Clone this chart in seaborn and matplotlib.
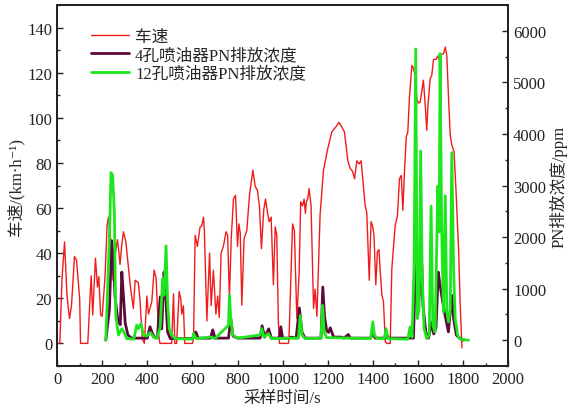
import numpy as np
import pandas as pd
import seaborn as sns
import matplotlib.pyplot as plt
from matplotlib.ticker import MultipleLocator

# 车速 (km/h) vs sampling time (s)
speed_t = [0, 12, 22, 33, 44, 55, 64, 77, 86, 100, 104, 136, 151, 158, 170, 179, 185, 193, 200, 212,
           222, 228, 237, 248, 258, 268, 279, 287, 294, 305, 324, 338, 346, 360, 367, 378, 387, 398,
           405, 420, 430, 439, 450, 456, 508, 516, 522, 530, 541, 548, 553, 560, 566, 600, 605, 612,
           622, 634, 641, 649, 653, 664, 676, 683, 693, 704, 712, 719, 727, 738, 749, 756, 764, 772,
           782, 791, 800, 806, 812, 819, 829, 841, 853, 868, 878, 888, 897, 906, 916, 924, 933, 940,
           949, 959, 967, 974, 981, 986, 1026, 1029, 1044, 1052, 1063, 1073, 1080, 1088, 1095, 1101,
           1105, 1111, 1117, 1126, 1137, 1144, 1152, 1166, 1181, 1200, 1218, 1236, 1250, 1259, 1274,
           1289, 1299, 1310, 1319, 1329, 1339, 1348, 1358, 1366, 1373, 1384, 1392, 1399, 1405, 1413,
           1420, 1427, 1432, 1440, 1447, 1455, 1462, 1477, 1484, 1499, 1509, 1518, 1526, 1533, 1540,
           1548, 1555, 1562, 1573, 1580, 1588, 1595, 1602, 1610, 1617, 1624, 1632, 1639, 1644, 1654,
           1661, 1669, 1681, 1688, 1696, 1703, 1713, 1721, 1728, 1735, 1743, 1750, 1760, 1769, 1780,
           1787, 1795]
speed_v = [0, 0, 29, 45, 21, 11, 17, 38.5, 37, 20, 0, 0, 30, 12.6, 37.8, 25, 29.6, 12.6, 12, 29,
           52.6, 56, 46.7, 28, 40, 46, 35, 44, 49.5, 45, 26, 15.5, 28, 27, 20, 2, 0, 21,
           13, 18.6, 32.5, 29, 4, 0, 0, 22, 0, 0, 23, 20, 13, 16.7, 0, 0, 2, 48,
           43, 51.7, 52, 56, 50, 10, 40, 16.7, 32.5, 13, 21, 11.5, 40, 43.4, 49.5, 48, 20, 46.5,
           64, 65.7, 43, 53, 49, 17, 46.5, 50, 65.7, 76.8, 69.7, 68, 61, 42, 59, 64, 58, 54,
           56, 26, 51.7, 48, 9.6, 0, 0, 5, 53, 50, 11, 31, 62.8, 61, 64, 57.6,
           62.8, 64, 68.7, 61, 15.5, 24, 12, 57, 76.8, 86.4, 93.8, 96, 98, 96.5, 93.8,
           81, 77.7, 76.3, 73, 81, 79.6, 81, 70, 61, 58, 28, 54, 52, 48, 26,
           40.6, 41.6, 33, 21.4, 18.6, 0.7, 0, 0, 33, 52.4, 56.6, 73, 74.5, 59, 75.8,
           91.6, 93.7, 109, 123.3, 122, 118.5, 108.5, 106.6, 107, 112, 116.7, 106, 94.5, 105, 117.4,
           118.8, 126, 126, 127.5, 125.5, 128, 128.5, 131.4, 127.5, 110, 92.3, 88, 85, 67, 41.6,
           18, -2]

# 4孔喷油器 PN (ppm)
pn4_t = [216, 232, 242, 250, 257, 269, 280, 287, 295, 302, 314, 330, 400, 412, 420, 430, 445, 457,
         464, 474, 480, 490, 502, 600, 615, 625, 680, 690, 700, 760, 770, 780, 800, 900, 909, 920,
         938, 950, 985, 992, 1000, 1030, 1037, 1060, 1074, 1086, 1100, 1170, 1178, 1186, 1195, 1203,
         1211, 1226, 1262, 1272, 1291, 1300, 1390, 1400, 1410, 1455, 1462, 1470, 1580, 1585, 1592,
         1602, 1610, 1617, 1622, 1635, 1647, 1661, 1670, 1680, 1690, 1698, 1705, 1717, 1724, 1735,
         1750, 1758, 1770, 1785, 1802]
pn4_v = [0, 600, 1930, 1550, 840, 400, 300, 1320, 800, 330, 100, 40, 40, 260, 160, 60, 60, 840,
         220, 1320, 1000, 160, 30, 30, 160, 40, 40, 200, 40, 40, 420, 80, 40, 40, 280, 60,
         220, 40, 40, 260, 40, 40, 60, 40, 625, 150, 40, 40, 1030, 450, 190, 150,
         240, 60, 60, 40, 110, 40, 40, 150, 40, 40, 100, 40, 40, 800, 2050,
         740, 1000, 1450, 680, 150, 40, 350, 120, 250, 1320, 1060, 870, 550, 400, 160,
         870, 420, 100, 40, 0]

# 12孔喷油器 PN (ppm)
pn12_t = [216, 232, 239, 246, 254, 260, 272, 287, 295, 309, 340, 353, 360, 372, 383, 398, 413, 428,
          443, 457, 468, 474, 483, 490, 497, 509, 523, 600, 605, 617, 679, 700, 760, 764, 770, 779,
          800, 900, 907, 917, 936, 950, 1070, 1078, 1086, 1100, 1170, 1177, 1184, 1195, 1390, 1400,
          1407, 1420, 1450, 1459, 1466, 1555, 1565, 1574, 1583, 1590, 1597, 1605, 1612, 1619, 1627,
          1639, 1650, 1658, 1666, 1676, 1688, 1694, 1698, 1705, 1713, 1721, 1728, 1735, 1743, 1750,
          1758, 1765, 1776, 1787, 1824]
pn12_v = [0, 2000, 3250, 3200, 2480, 480, 100, 225, 160, 30, 20, 290, 225, 320, 100, 80, 150, 60,
          30, 250, 1190, 870, 1830, 740, 225, 100, 30, 20, 130, 30, 60, 30, 290, 870, 420, 100,
          40, 100, 225, 60, 130, 30, 40, 480, 100, 30, 40, 675, 160, 50, 30, 355,
          100, 30, 30, 225, 30, 20, 260, 60, 1500, 5650, 420, 600, 3670, 1200, 225,
          30, 100, 2600, 290, 160, 2990, 2100, 5560, 2200, 550, 2800, 550, 355, 610, 3640,
          1380, 420, 100, 20, 0]

speed_df = pd.DataFrame({"t": speed_t, "v": speed_v})
pn4_df = pd.DataFrame({"t": pn4_t, "v": pn4_v})
pn12_df = pd.DataFrame({"t": pn12_t, "v": pn12_v})

sns.set_style("ticks")
plt.rcParams['font.family'] = ['Liberation Serif', 'Noto Sans CJK SC', 'DejaVu Sans']
plt.rcParams['font.size'] = 12
plt.rcParams['axes.unicode_minus'] = False

fig, ax = plt.subplots(figsize=(5.71, 4.10), dpi=100)
fig.subplots_adjust(left=0.1, right=0.89, top=0.985, bottom=0.105)
ax2 = ax.twinx()

sns.lineplot(data=speed_df, x="t", y="v", ax=ax, color="#f01c1c", linewidth=1.0,
             estimator=None, sort=False, label="车速", legend=False)
sns.lineplot(data=pn4_df, x="t", y="v", ax=ax2, color="#5c0a3c", linewidth=2.0,
             estimator=None, sort=False, label="4孔喷油器PN排放浓度", legend=False)
sns.lineplot(data=pn12_df, x="t", y="v", ax=ax2, color="#1ee61e", linewidth=2.0,
             estimator=None, sort=False, label="12孔喷油器PN排放浓度", legend=False)

ax.set_xlim(0, 2000)
ax.set_ylim(-10, 150)
ax2.set_ylim(-500, 6500)
ax.xaxis.set_major_locator(MultipleLocator(200))
ax.xaxis.set_minor_locator(MultipleLocator(100))
ax.yaxis.set_major_locator(MultipleLocator(20))
ax.yaxis.set_minor_locator(MultipleLocator(10))
ax2.yaxis.set_major_locator(MultipleLocator(1000))
ax2.yaxis.set_minor_locator(MultipleLocator(500))

for a in (ax, ax2):
    a.tick_params(which="major", direction="in", length=4, width=1, labelsize=12, colors="#222222")
    a.tick_params(which="minor", direction="in", length=2, width=1)
    for s in a.spines.values():
        s.set_linewidth(1.3)
        s.set_color("#222222")

ax.set_xlabel("采样时间/s", fontsize=12, labelpad=2)
ax.set_ylabel("车速/(km·h⁻¹)", fontsize=12, labelpad=2)
ax2.set_ylabel("PN排放浓度/ppm", fontsize=12, labelpad=2)

h1, l1 = ax.get_legend_handles_labels()
h2, l2 = ax2.get_legend_handles_labels()
ax2.legend(h1 + h2, l1 + l2, loc="upper left", bbox_to_anchor=(0.075, 0.935),
           frameon=False, fontsize=12, handlelength=2.3, handletextpad=0.35,
           labelspacing=0.15, borderpad=0, borderaxespad=0)

fig.savefig("out.png", dpi=100)
